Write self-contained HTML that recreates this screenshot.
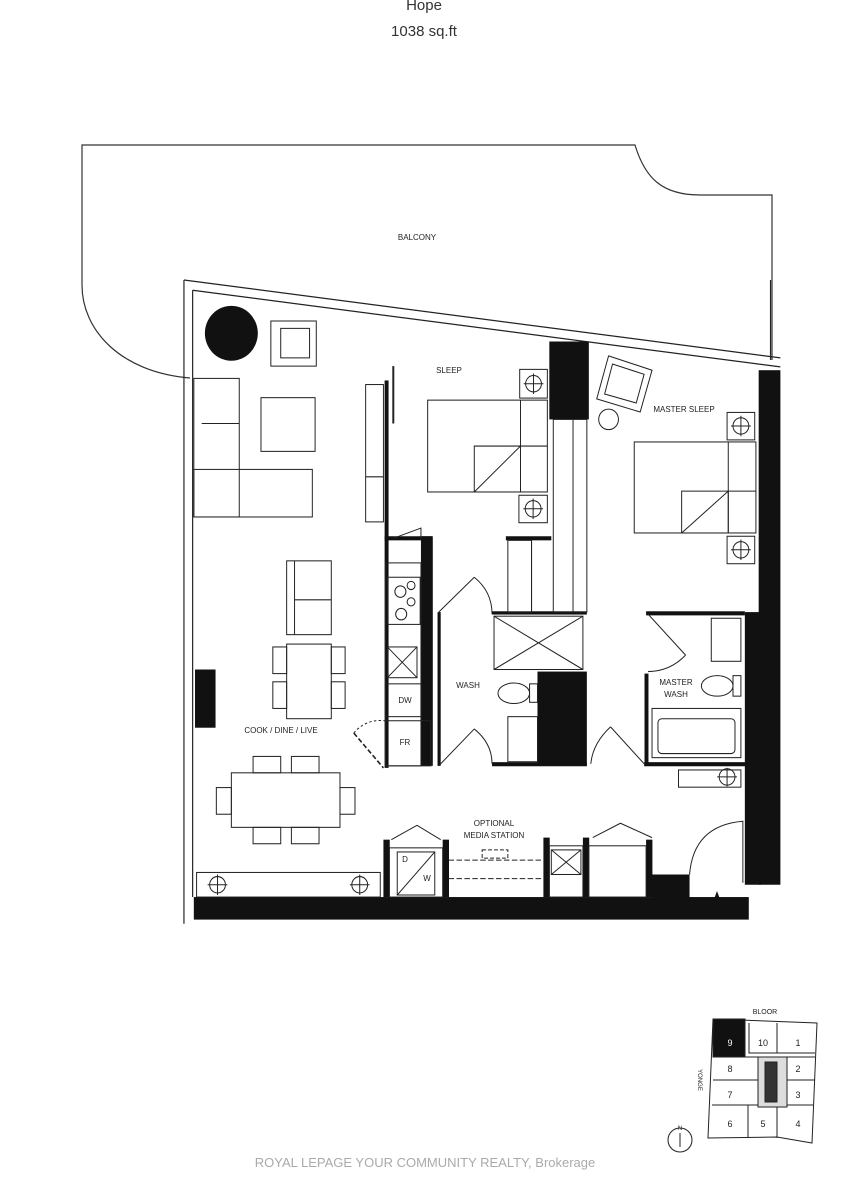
<!DOCTYPE html>
<html><head><meta charset="utf-8"><style>
html,body{margin:0;padding:0;background:#fff;}
svg{display:block;font-family:"Liberation Sans",sans-serif;}
.t{font-size:8px;fill:#222;}
</style></head><body>
<svg width="848" height="1200" viewBox="0 0 848 1200" xmlns="http://www.w3.org/2000/svg">
<rect width="848" height="1200" fill="#fff"/>
<text x="424" y="10" text-anchor="middle" font-size="15" fill="#333">Hope</text>
<text x="424" y="36" text-anchor="middle" font-size="15" fill="#333">1038 sq.ft</text>

<!-- balcony -->
<path d="M190,378 C120,372 82,330 82,285 L82,145 L635,145 C645,178 662,195 700,195 L772,195 L772,360" fill="none" stroke="#333" stroke-width="1.2"/>
<text x="417" y="240" text-anchor="middle" class="t" font-size="7">BALCONY</text>

<g transform="translate(180,280) scale(0.395,0.41)" fill="none" stroke="#222" stroke-width="2.5">
<g vector-effect="non-scaling-stroke">
<!-- outer walls -->
<line x1="10" y1="0" x2="10" y2="1570" stroke-width="3"/>
<line x1="32" y1="25" x2="32" y2="1505" stroke-width="3"/>
<line x1="10" y1="0" x2="1520" y2="190" stroke-width="3"/>
<line x1="32" y1="25" x2="1520" y2="212" stroke-width="3"/>
<line x1="1495" y1="0" x2="1495" y2="195" stroke-width="3"/>
<g fill="#111" stroke="none">
<rect x="935" y="150" width="100" height="190"/>
<rect x="1465" y="220" width="55" height="1255"/>
<rect x="1430" y="810" width="40" height="665"/>
<rect x="35" y="1505" width="1405" height="55"/>
<rect x="1195" y="1450" width="95" height="60"/>
<rect x="38" y="950" width="52" height="142"/>
<rect x="610" y="625" width="30" height="560"/>
<rect x="905" y="955" width="125" height="230"/>
<rect x="515" y="1365" width="16" height="140"/>
<rect x="665" y="1365" width="16" height="140"/>
<rect x="920" y="1360" width="16" height="145"/>
<rect x="1020" y="1360" width="16" height="145"/>
<rect x="1180" y="1365" width="16" height="140"/>
<rect x="518" y="245" width="10" height="945"/>
<rect x="790" y="1176" width="240" height="10"/>
<rect x="1175" y="1176" width="260" height="10"/>
<rect x="1180" y="808" width="250" height="10"/>
<rect x="1176" y="960" width="10" height="225"/>
<rect x="790" y="808" width="240" height="8"/>
<rect x="825" y="625" width="115" height="10"/>
<rect x="652" y="810" width="8" height="375"/>
<rect x="518" y="625" width="120" height="10"/>
<rect x="1140" y="1580" width="0" height="0"/>
</g>
<circle cx="130" cy="130" r="67" fill="#111" stroke="none"/>
<!-- living furniture -->
<path d="M230,100 H345 V210 H230 Z M255,118 H328 V190 H255 Z"/>
<rect x="35" y="240" width="115" height="338"/>
<rect x="35" y="462" width="300" height="116"/>
<line x1="55" y1="350" x2="150" y2="350"/>
<rect x="205" y="287" width="137" height="131"/>
<rect x="470" y="255" width="45" height="335"/>
<line x1="470" y1="480" x2="515" y2="480"/>
<line x1="540" y1="210" x2="540" y2="350" stroke-width="5"/>
<!-- sleep -->
<rect x="627" y="293" width="303" height="224"/>
<line x1="862" y1="293" x2="862" y2="517"/>
<line x1="862" y1="405" x2="930" y2="405"/>
<path d="M745,405 H862 V517 H745 Z M745,517 L862,405"/>
<rect x="860" y="218" width="70" height="70"/><circle cx="895" cy="253" r="20"/><path d="M870,253H920M895,228V278"/>
<rect x="858" y="525" width="72" height="67"/><circle cx="894" cy="558" r="20"/><path d="M869,558H919M894,533V583"/>
<rect x="945" y="340" width="85" height="470"/>
<line x1="995" y1="340" x2="995" y2="810"/>
<rect x="830" y="635" width="60" height="175"/>
<line x1="890" y1="635" x2="890" y2="810"/>
<!-- master sleep -->
<rect x="1150" y="395" width="308" height="222"/>
<line x1="1388" y1="395" x2="1388" y2="617"/>
<line x1="1388" y1="515" x2="1458" y2="515"/>
<path d="M1270,515 H1388 V617 H1270 Z M1270,617 L1388,515"/>
<rect x="1385" y="323" width="70" height="67"/><circle cx="1420" cy="356" r="20"/><path d="M1395,356H1445M1420,331V381"/>
<rect x="1385" y="625" width="70" height="67"/><circle cx="1420" cy="658" r="20"/><path d="M1395,658H1445M1420,633V683"/>
<path d="M1085,185 L1195,220 L1165,322 L1055,290 Z M1095,205 L1175,230 L1155,300 L1075,278 Z"/>
<circle cx="1085" cy="340" r="25"/>
<!-- kitchen -->
<rect x="520" y="690" width="90" height="495"/>
<rect x="525" y="725" width="83" height="115"/>
<circle cx="558" cy="760" r="14"/><circle cx="585" cy="745" r="10"/><circle cx="585" cy="785" r="10"/><circle cx="560" cy="815" r="14"/>
<rect x="525" y="895" width="75" height="75"/><path d="M525,895L600,970M600,895L525,970"/>
<rect x="520" y="985" width="90" height="80"/>
<rect x="520" y="1075" width="115" height="110"/>
<path d="M440,1105 L515,1190" stroke-dasharray="12,6" stroke-width="4"/>
<path d="M440,1105 Q470,1070 520,1075" stroke-dasharray="6,6"/>
<path d="M655,810 L745,725 M745,725 Q790,760 790,815"/>
<path d="M655,1185 L745,1095 M745,1095 Q790,1130 790,1180"/>
<path d="M540,630 L610,605 V635"/>
<!-- island/dining -->
<rect x="270" y="685" width="113" height="180"/>
<line x1="290" y1="685" x2="290" y2="865"/><line x1="290" y1="780" x2="383" y2="780"/>
<rect x="270" y="888" width="113" height="182"/>
<rect x="235" y="895" width="35" height="65"/><rect x="235" y="980" width="35" height="65"/>
<rect x="383" y="895" width="35" height="65"/><rect x="383" y="980" width="35" height="65"/>
<rect x="130" y="1202" width="275" height="133"/>
<rect x="185" y="1162" width="70" height="40"/><rect x="282" y="1162" width="70" height="40"/>
<rect x="185" y="1335" width="70" height="40"/><rect x="282" y="1335" width="70" height="40"/>
<rect x="92" y="1238" width="38" height="65"/><rect x="405" y="1238" width="38" height="65"/>
<!-- wash -->
<rect x="795" y="820" width="225" height="130"/><path d="M795,820L1020,950M1020,820L795,950"/>
<ellipse cx="845" cy="1008" rx="40" ry="25"/><rect x="885" y="985" width="20" height="45"/>
<rect x="830" y="1065" width="75" height="110"/>
<!-- master wash -->
<rect x="1195" y="1045" width="225" height="120"/><rect x="1210" y="1070" width="195" height="85" rx="10"/>
<ellipse cx="1360" cy="990" rx="40" ry="25"/><rect x="1400" y="965" width="20" height="50"/>
<rect x="1345" y="825" width="75" height="105"/>
<path d="M1185,815 L1280,915 M1280,915 Q1240,955 1185,955"/>
<path d="M1175,1180 L1090,1090 M1090,1090 Q1045,1130 1040,1180"/>
<rect x="1262" y="1195" width="158" height="42"/><circle cx="1385" cy="1212" r="20"/><path d="M1360,1212H1410M1385,1190V1235"/>
<!-- bench bottom -->
<rect x="42" y="1445" width="465" height="60"/>
<circle cx="95" cy="1475" r="20"/><path d="M70,1475H120M95,1450V1500"/>
<circle cx="455" cy="1475" r="20"/><path d="M430,1475H480M455,1450V1500"/>
<!-- media closets -->
<rect x="530" y="1385" width="135" height="120"/>
<rect x="550" y="1395" width="95" height="105"/><path d="M550,1500L645,1395"/>
<rect x="935" y="1380" width="85" height="125"/><rect x="940" y="1390" width="75" height="60"/><path d="M940,1390L1015,1450M1015,1390L940,1450"/>
<rect x="1035" y="1380" width="145" height="125"/>
<path d="M535,1365 L600,1330 L660,1365 M1045,1360 L1115,1325 L1195,1360"/>
<path d="M680,1415H920 M680,1460H920" stroke-dasharray="14,6"/>
<rect x="765" y="1390" width="65" height="20" stroke-dasharray="10,5"/>
<!-- entry door -->
<path d="M1290,1450 Q1300,1330 1425,1320 V1470"/>
</g></g>
<polygon points="717,891 713,902 721,902" fill="#111"/>

<text class="t" x="449" y="373" text-anchor="middle">SLEEP</text>
<text class="t" x="684" y="412" text-anchor="middle">MASTER SLEEP</text>
<text class="t" x="468" y="688" text-anchor="middle">WASH</text>
<text class="t" x="676" y="685" text-anchor="middle">MASTER</text>
<text class="t" x="676" y="697" text-anchor="middle">WASH</text>
<text class="t" x="281" y="733" text-anchor="middle">COOK / DINE / LIVE</text>
<text class="t" x="494" y="826" text-anchor="middle">OPTIONAL</text>
<text class="t" x="494" y="838" text-anchor="middle">MEDIA STATION</text>
<text class="t" x="405" y="703" text-anchor="middle">DW</text>
<text class="t" x="405" y="745" text-anchor="middle">FR</text>
<text class="t" x="405" y="862" text-anchor="middle">D</text>
<text class="t" x="427" y="881" text-anchor="middle">W</text>

<!-- key plan -->
<g stroke="#222" stroke-width="1" fill="none">
<polygon points="713,1019 817,1023 812,1143 777,1137 708,1138"/>
<rect x="713" y="1019" width="32" height="38" fill="#111"/>
<path d="M749,1023V1053H777V1023 M777,1053H815 M713,1057H758 M787,1057H815 M713,1080H758 M787,1080H815 M712,1105H758 M787,1105H813 M748,1105V1138 M777,1105V1138"/>
<rect x="758" y="1057" width="29" height="50" fill="#ddd"/>
<rect x="765" y="1062" width="12" height="40" fill="#333"/>
<circle cx="680" cy="1140" r="12"/><line x1="680" y1="1133" x2="680" y2="1147"/>
</g>
<g font-size="9" fill="#222" text-anchor="middle">
<text x="765" y="1014" font-size="7">BLOOR</text>
<text x="730" y="1046" fill="#fff">9</text><text x="763" y="1046">10</text><text x="798" y="1046">1</text>
<text x="730" y="1072">8</text><text x="798" y="1072">2</text>
<text x="730" y="1098">7</text><text x="798" y="1098">3</text>
<text x="730" y="1127">6</text><text x="763" y="1127">5</text><text x="798" y="1127">4</text>
<text x="680" y="1130" font-size="6">N</text>
<text x="0" y="0" font-size="6" transform="translate(698,1080) rotate(90)">YONGE</text>
</g>
<text x="425" y="1167" text-anchor="middle" font-size="13" fill="#aaa">ROYAL LEPAGE YOUR COMMUNITY REALTY, Brokerage</text>
</svg>
</body></html>
